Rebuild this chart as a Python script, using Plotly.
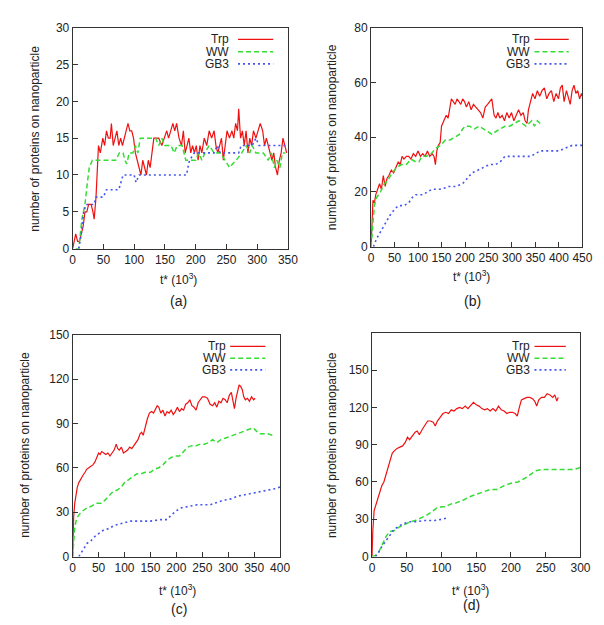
import plotly.graph_objects as go

W, H = 604, 625

# ---------------- data (t* in 10^3, number of proteins) ----------------
a_trp = [(0,0),(3,1),(5,2),(8,1),(11,1),(14,2),(17,3),(20,5),(23,5),(26,6),(30,6),(33,5),(35,4),(38,7),(40,12),(42,14),(45,13),(49,15),(52,14),(55,16),(58,15),(61,15),(63,17),(66,14),(69,15),(72,16),(75,14),(78,15),(81,14),(84,15),(87,16),(90,17),(93,16),(96,16),(99,15),(102,13),(105,12),(108,11),(111,10),(114,12),(117,11),(120,10),(123,12),(126,11),(129,13),(132,15),(140,15),(145,14),(149,15),(153,16),(156,15),(159,16),(163,17),(166,16),(169,17),(173,15),(177,14),(180,16),(183,13),(186,14),(189,15),(192,13),(195,14),(198,13),(201,14),(204,12),(207,14),(210,13),(214,15),(218,14),(222,16),(226,15),(230,16),(233,14),(236,13),(239,14),(242,15),(245,12),(248,14),(251,16),(255,15),(259,16),(262,15),(265,17),(268,16),(270,19),(273,15),(276,16),(279,14),(282,16),(285,13),(288,15),(291,14),(294,16),(298,15),(302,16),(305,17),(309,16),(312,14),(315,15),(318,14),(321,13),(324,12),(327,13),(330,11),(333,10),(336,12),(339,13),(342,15),(345,14),(348,13)]
a_ww = [(5,0),(10,0),(15,4),(20,6),(24,9),(27,11),(32,12),(38,12),(55,12),(70,12),(76,13),(82,13),(85,12),(88,11.5),(92,13),(98,13),(102,14),(106,13),(110,15),(135,15),(140,14),(145,15),(150,14),(160,14),(165,13),(170,14),(178,14),(184,12),(190,12),(200,12),(205,13),(210,12),(215,13),(222,14),(230,13),(240,13),(248,12),(255,11),(260,11.5),(266,12),(275,13),(282,14),(288,13),(292,14),(298,13),(310,13),(318,12),(323,13),(328,11),(332,12),(337,11),(341,13),(346,13)]
a_gb3 = [(10,0),(14,2),(18,5),(22,6),(35,6),(38,7),(50,7),(55,8),(75,8),(78,9),(82,10),(100,10),(103,9),(108,10),(185,10),(190,12),(198,13),(230,13),(235,14),(240,13),(270,13),(274,14),(292,14),(298,15),(303,14),(350,14)]

b_trp = [(0,0),(2,12),(4,17),(7,16),(10,19),(14,21),(18,23),(22,21),(26,26),(30,22),(34,25),(38,26),(43,28),(48,27),(53,29),(58,31),(62,30),(66,33),(70,32),(75,33),(80,33),(85,32),(90,34),(95,33),(100,35),(105,33),(110,34),(115,33),(120,35),(125,33),(130,34),(134,33),(137,30),(140,35),(143,37),(147,38),(150,44),(155,46),(160,48),(164,47),(168,51),(171,54),(175,53),(179,52),(183,54),(187,53),(191,52),(195,54),(199,53),(203,51),(208,53),(213,50),(218,52),(223,51),(228,50),(233,49),(238,47),(243,51),(248,52),(253,53),(257,54),(262,48),(266,47),(270,49),(274,47),(279,48),(284,46),(289,49),(294,47),(299,49),(304,46),(309,48),(314,50),(319,48),(324,49),(328,46),(332,45),(335,50),(339,53),(344,56),(349,54),(354,57),(359,55),(364,57),(369,58),(374,54),(379,56),(384,57),(389,53),(394,56),(399,54),(403,58),(407,59),(411,53),(416,57),(420,54),(424,52),(428,57),(432,59),(436,56),(440,57),(444,54),(448,56),(450,55)]
b_ww = [(0,0),(3,8),(7,15),(12,18),(20,20),(28,23),(35,24),(45,27),(55,29),(65,30),(75,30),(85,32),(95,31),(102,31),(108,33),(118,33),(128,34),(138,36),(148,37),(158,39),(168,39),(178,40),(188,41),(195,43),(200,44),(210,44),(220,43),(230,44),(240,43),(250,42),(258,41),(265,42),(275,43),(285,44),(295,44),(305,45),(315,46),(322,45),(330,44),(336,45),(342,46),(348,44),(354,46),(360,45)]
b_gb3 = [(5,0),(12,3),(22,6),(32,9),(42,12),(52,14),(58,15),(70,15),(80,16),(88,18),(95,19),(110,19),(120,20),(130,21),(150,21),(165,22),(180,22),(195,23),(205,25),(215,27),(228,28),(240,29),(252,30),(265,30),(275,31),(285,33),(300,33),(340,33),(350,34),(360,35),(400,35),(415,36),(428,37),(450,37)]

c_trp = [(0,0),(1,18),(2,27),(4,36),(6,42),(9,47),(12,50),(16,53),(20,55),(24,57),(27,59),(31,60),(35,61),(39,62),(43,64),(47,67),(50,70),(53,69),(56,71),(60,70),(64,69),(68,70),(72,68),(76,70),(80,72),(84,76),(87,73),(90,72),(94,74),(98,70),(102,71),(106,72),(110,74),(114,73),(118,75),(122,77),(126,79),(130,83),(133,84),(136,82),(140,88),(144,93),(148,97),(152,98),(156,97),(160,100),(163,102),(166,101),(170,97),(174,99),(178,95),(182,98),(186,97),(190,99),(194,96),(198,98),(202,101),(206,98),(210,100),(214,99),(218,103),(222,104),(226,106),(230,102),(234,101),(238,99),(242,104),(246,106),(250,108),(255,108),(260,107),(265,103),(270,102),(274,104),(278,101),(282,105),(286,104),(290,107),(294,106),(298,104),(302,109),(306,111),(309,106),(312,100),(315,107),(318,112),(321,116),(324,115),(327,113),(330,108),(333,106),(337,107),(341,105),(345,108),(349,106),(352,107)]
c_ww = [(0,0),(2,12),(4,20),(8,26),(14,29),(20,31),(28,33),(36,34),(45,36),(55,36),(62,38),(70,41),(78,44),(86,45),(94,47),(100,50),(108,52),(116,54),(124,56),(132,56),(140,57),(150,57),(158,59),(166,60),(174,62),(182,65),(190,67),(198,68),(206,68),(214,71),(222,74),(230,75),(238,75),(246,76),(254,76),(262,77),(270,79),(278,77),(286,79),(294,80),(302,81),(310,82),(318,83),(326,84),(334,85),(342,86),(348,87),(354,85),(360,83),(368,83),(376,83),(385,82)]
c_gb3 = [(12,0),(20,5),(28,9),(36,11),(44,14),(52,16),(60,18),(70,19),(80,21),(90,22),(100,23),(112,24),(130,24),(150,24),(170,25),(182,25),(190,28),(200,31),(210,33),(222,34),(240,35),(265,35),(280,37),(290,38),(305,39),(320,41),(335,42),(350,43),(365,44),(380,45),(392,46),(400,47)]

d_trp = [(0,0),(1,20),(3,37),(5,41),(8,46),(11,52),(14,57),(17,60),(20,66),(23,72),(26,78),(29,83),(32,85),(36,87),(40,88),(44,89),(48,92),(51,96),(54,94),(58,97),(62,100),(65,101),(68,98),(72,102),(76,106),(80,109),(84,109),(88,108),(91,105),(94,109),(98,112),(102,115),(106,116),(110,115),(114,118),(118,117),(122,119),(126,120),(130,119),(134,121),(138,119),(142,122),(146,124),(150,122),(154,121),(158,119),(162,118),(166,119),(170,117),(174,119),(178,117),(182,121),(186,118),(190,117),(194,115),(198,116),(202,116),(206,115),(209,113),(212,120),(215,126),(219,127),(223,128),(227,128),(231,127),(234,125),(237,121),(240,126),(244,128),(248,128),(252,131),(256,130),(260,128),(263,130),(266,125),(268,128)]
d_ww = [(0,0),(5,1),(10,4),(15,10),(20,16),(25,20),(32,21),(40,24),(48,26),(55,28),(62,29),(70,31),(78,33),(86,36),(93,39),(100,40),(106,40),(112,42),(120,43),(130,45),(140,48),(150,50),(160,52),(170,54),(180,54),(190,57),(200,59),(210,60),(220,63),(228,66),(236,69),(245,70),(260,70),(275,70),(290,70),(297,71),(300,72)]
d_gb3 = [(5,0),(9,3),(14,8),(20,13),(26,18),(32,22),(40,25),(48,27),(55,28),(62,28),(75,29),(90,29),(100,30),(108,31)]

series_names = ["Trp", "WW", "GB3"]
panel_labels = ["(a)", "(b)", "(c)", "(d)"]
x_ticks = [list(range(0, 351, 50)), list(range(0, 451, 50)), list(range(0, 401, 50)), list(range(0, 301, 50))]
y_ticks = [list(range(0, 31, 5)), list(range(0, 81, 20)), list(range(0, 151, 30)), list(range(0, 151, 30))]
x_ranges = [[0, 350], [0, 450], [0, 400], [0, 300]]
y_ranges = [[0, 30], [0, 80], [0, 150], [0, 180]]
x_title = "t* (10<sup>3</sup>)"
y_title = "number of proteins on nanoparticle"

panels = [[a_trp, a_ww, a_gb3], [b_trp, b_ww, b_gb3], [c_trp, c_ww, c_gb3], [d_trp, d_ww, d_gb3]]

# ---------------- styling / layout ----------------
colors = ["#ee1111", "#33dd33", "#4455ee"]
dashes = ["solid", "5px,3px", "2px,3px"]
widths = [1.2, 1.5, 1.6]
FONT = "Liberation Sans, Arial, sans-serif"
TXT = "#222222"

# plot boxes in pixels: (left, top, right, bottom)
boxes = [(63, 13, 283, 239), (368, 13, 584, 237), (63, 327, 275, 554), (369, 325, 582, 554)]
ytitle_pos = [(25, 126), (328, 125), (14, 440), (328, 440)]
xtitle_pos = [(171, 270), (471, 267), (170, 588), (470, 588)]
label_pos = [(171, 293), (472, 293), (172, 608), (471, 604)]
legend_pos = [(225, 25), (532, 25), (222, 339), (532, 339)]  # right end of legend text, first row
legend_line = [(232, 268), (535, 570), (224, 260), (535, 567)]
legend_dy = [12.5, 12.5, 12, 12]

def px(x):
    return x / W

def py(y):
    return 1 - y / H

fig = go.Figure()
layout = dict(width=W, height=H, margin=dict(l=0, r=0, t=0, b=0),
              paper_bgcolor="white", plot_bgcolor="white", showlegend=False,
              font=dict(family=FONT, size=12, color=TXT))
annotations = []
shapes = []

for i, series in enumerate(panels):
    suf = "" if i == 0 else str(i + 1)
    l, t, r, b = boxes[i]
    layout["xaxis" + suf] = dict(domain=[px(l), px(r)], range=x_ranges[i], anchor="y" + suf,
                                 tickvals=x_ticks[i], ticks="inside", ticklen=5, tickcolor="#333",
                                 showline=True, linecolor="#333", linewidth=1, mirror=True,
                                 showgrid=False, zeroline=False,
                                 tickfont=dict(family=FONT, size=12, color=TXT))
    layout["yaxis" + suf] = dict(domain=[py(b), py(t)], range=y_ranges[i], anchor="x" + suf,
                                 tickvals=y_ticks[i], ticks="inside", ticklen=5, tickcolor="#333",
                                 showline=True, linecolor="#333", linewidth=1, mirror=True,
                                 showgrid=False, zeroline=False,
                                 tickfont=dict(family=FONT, size=12, color=TXT))
    for k, pts in enumerate(series):
        fig.add_trace(go.Scatter(x=[p[0] for p in pts], y=[p[1] for p in pts], mode="lines",
                                 name=series_names[k], xaxis="x" + suf, yaxis="y" + suf,
                                 line=dict(color=colors[k], dash=dashes[k], width=widths[k])))
    # axis titles and panel label
    annotations.append(dict(text=y_title, x=px(ytitle_pos[i][0]), y=py(ytitle_pos[i][1]),
                            xref="paper", yref="paper", textangle=-90, showarrow=False,
                            font=dict(size=12, color=TXT), xanchor="center", yanchor="middle"))
    annotations.append(dict(text=x_title, x=px(xtitle_pos[i][0]), y=py(xtitle_pos[i][1]),
                            xref="paper", yref="paper", showarrow=False,
                            font=dict(size=12, color=TXT), xanchor="center", yanchor="middle"))
    annotations.append(dict(text=panel_labels[i], x=px(label_pos[i][0]), y=py(label_pos[i][1]),
                            xref="paper", yref="paper", showarrow=False,
                            font=dict(size=14, color=TXT), xanchor="center", yanchor="middle"))
    # legend (text then line sample, gnuplot style)
    for k, name in enumerate(series_names):
        yy = legend_pos[i][1] + k * legend_dy[i]
        annotations.append(dict(text=name, x=px(legend_pos[i][0]), y=py(yy),
                                xref="paper", yref="paper", showarrow=False,
                                font=dict(size=12, color=TXT), xanchor="right", yanchor="middle"))
        shapes.append(dict(type="line", xref="paper", yref="paper",
                           x0=px(legend_line[i][0]), x1=px(legend_line[i][1]), y0=py(yy), y1=py(yy),
                           line=dict(color=colors[k], dash=dashes[k], width=widths[k])))

layout["annotations"] = annotations
layout["shapes"] = shapes
fig.update_layout(**layout)
fig.write_html("out.html")
